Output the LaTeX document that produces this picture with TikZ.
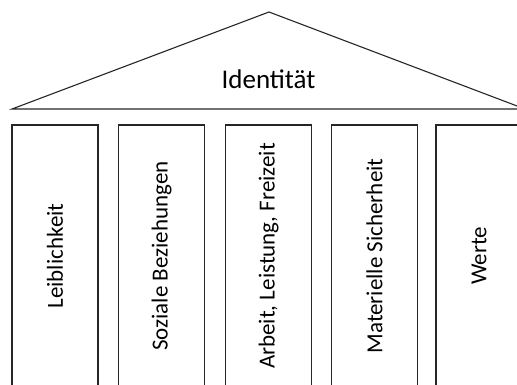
\documentclass[tikz,border=0pt]{standalone}
\usepackage{fontspec}
\setmainfont{Carlito}
\begin{document}
\begin{tikzpicture}[x=1pt,y=-1pt,
  line/.style={draw=black!85, line width=1.1pt, line join=miter},
  pillar/.style={line, rectangle, rotate=90, minimum width=262pt, minimum height=86pt, inner sep=0pt,
    font=\fontsize{23}{28}\selectfont},
  rooflabel/.style={font=\fontsize{27}{32}\selectfont, anchor=base, inner sep=0pt}]
\useasboundingbox (0,0) rectangle (517,385);
\clip (0,0) rectangle (517,385);
% roof
\coordinate (rl) at (12,109);
\coordinate (ra) at (269,12);
\coordinate (rr) at (525,109);
\draw[line] (rl) -- (ra) -- (rr) -- cycle;
\node[rooflabel] (roof) at (268.5,89) {Identität};
% pillars
\node[pillar] (p1) at (55,256) {Leiblichkeit};
\node[pillar] (p2) at (161.5,256) {Soziale Beziehungen};
\node[pillar] (p3) at (268.5,256) {Arbeit, Leistung, Freizeit};
\node[pillar] (p4) at (374.5,256) {Materielle Sicherheit};
\node[pillar] (p5) at (479,256) {Werte};
\end{tikzpicture}
\end{document}
